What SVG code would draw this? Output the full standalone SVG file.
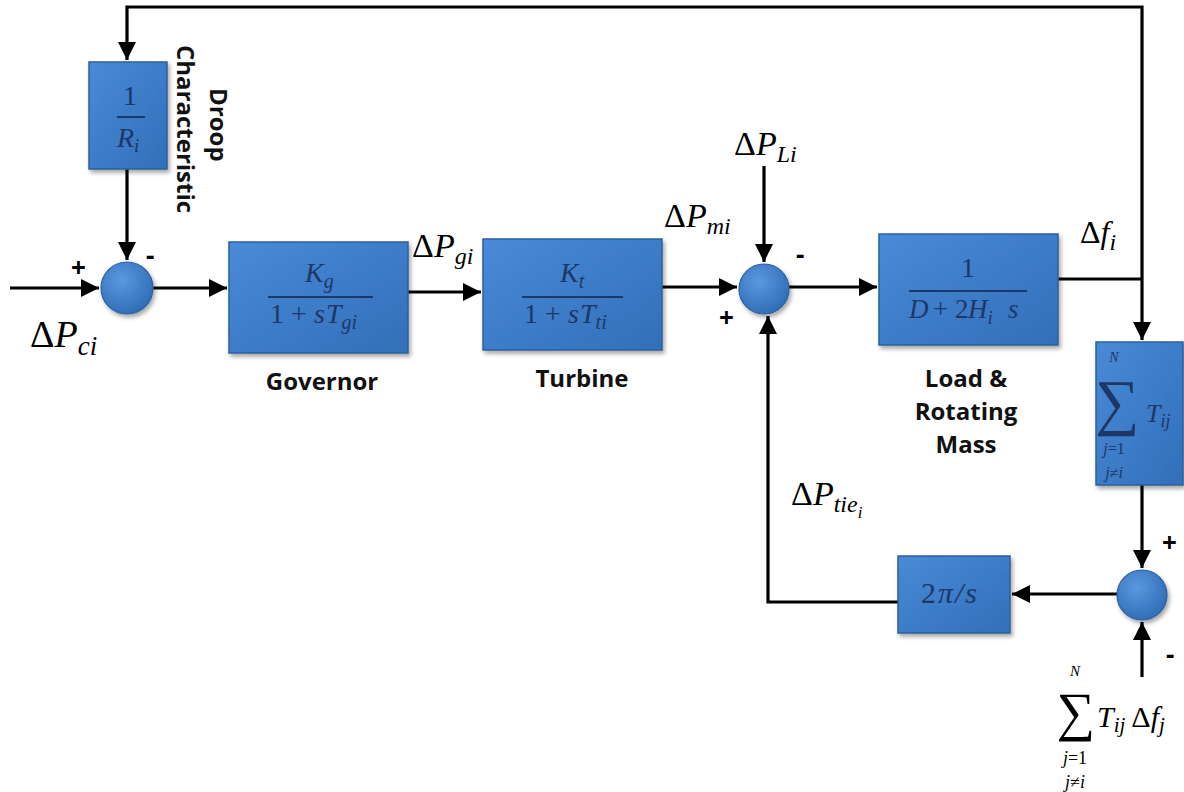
<svg xmlns="http://www.w3.org/2000/svg" width="1184" height="792" viewBox="0 0 1184 792">
<defs>
<linearGradient id="boxg" x1="0" y1="0" x2="1" y2="1">
<stop offset="0" stop-color="#4a8ad6"/>
<stop offset="0.5" stop-color="#3d7cc9"/>
<stop offset="1" stop-color="#336fb9"/>
</linearGradient>
<radialGradient id="cg" cx="0.4" cy="0.35" r="0.7">
<stop offset="0" stop-color="#5b98e0"/>
<stop offset="1" stop-color="#2f6bb4"/>
</radialGradient>
<filter id="sh" x="-10%" y="-10%" width="125%" height="125%">
<feDropShadow dx="2" dy="3" stdDeviation="2" flood-color="#000" flood-opacity="0.35"/>
</filter>
<marker id="ah" markerUnits="userSpaceOnUse" markerWidth="20" markerHeight="18" refX="18" refY="9" orient="auto">
<path d="M0,0 L18,9 L0,18 z" fill="#000"/>
</marker>
<style>
.box{fill:url(#boxg);stroke:#2c5f9e;stroke-width:1.5;filter:url(#sh)}
.sum{fill:url(#cg);stroke:#2a609f;stroke-width:1.2;filter:url(#sh)}
.ln{fill:none;stroke:#000;stroke-width:3.2}
.ar{marker-end:url(#ah)}
.m{font-family:"Liberation Serif",serif;font-style:italic;fill:#1d3766}
.mr{font-family:"Liberation Serif",serif;fill:#1d3766}
.lab{font-family:"Liberation Serif",serif;font-style:italic;fill:#000}
.up{font-style:normal}
.lbl{font-family:"Open Sans","Liberation Sans",sans-serif;font-weight:bold;font-size:24px;fill:#111}
.sg{font-family:"Open Sans","Liberation Sans",sans-serif;font-weight:bold;font-size:26px;fill:#000}
.fl{stroke:#1d3766;stroke-width:2}
</style>
</defs>

<g id="connectors">
<path class="ln ar" d="M1142,279 L1142,7 L127,7 L127,60"/>
<path class="ln" d="M1058,279 L1142,279"/>
<path class="ln ar" d="M1142,279 L1142,340"/>
<path class="ln ar" d="M127,169 L127,260"/>
<path class="ln ar" d="M10,288 L99,288"/>
<path class="ln ar" d="M153,288 L227,288"/>
<path class="ln ar" d="M408,292 L481,292"/>
<path class="ln ar" d="M662,287 L737,287"/>
<path class="ln ar" d="M764,166 L764,262"/>
<path class="ln ar" d="M789,287 L877,287"/>
<path class="ln ar" d="M1142,485 L1142,568"/>
<path class="ln ar" d="M1142,677 L1142,622"/>
<path class="ln ar" d="M1117,594 L1012,594"/>
<path class="ln ar" d="M898,602 L768,602 L768,316"/>
</g>

<g id="droop">
<rect class="box" x="89" y="62" width="78" height="107"/>
<text class="mr" x="130" y="105" font-size="28" text-anchor="middle">1</text>
<line class="fl" x1="117" y1="117" x2="145" y2="117"/>
<text class="m" x="117" y="147" font-size="28">R<tspan font-size="19" dy="5">i</tspan></text>
<text class="lbl" transform="translate(210,88) rotate(90)">Droop</text>
<text class="lbl" transform="translate(177,45) rotate(90)">Characteristic</text>
</g>

<g id="sum1">
<circle class="sum" cx="127" cy="288" r="26"/>
<text class="sg" x="71" y="277">+</text>
<text class="sg" x="146" y="265">-</text>
</g>

<g id="governor">
<rect class="box" x="229" y="242" width="179" height="111"/>
<text class="m" x="305" y="282" font-size="28">K<tspan font-size="20" dy="6">g</tspan></text>
<line class="fl" x1="268" y1="297" x2="373" y2="297"/>
<text class="mr" y="323" font-size="28"><tspan x="270">1</tspan><tspan x="291">+</tspan><tspan x="314" font-style="italic">s</tspan><tspan x="326" font-style="italic">T</tspan><tspan font-style="italic" font-size="20" dy="6">gi</tspan></text>
<text class="lbl" x="322" y="390" text-anchor="middle">Governor</text>
</g>

<g id="turbine">
<rect class="box" x="483" y="239" width="179" height="111"/>
<text class="m" x="560" y="282" font-size="28">K<tspan font-size="20" dy="6">t</tspan></text>
<line class="fl" x1="522" y1="297" x2="623" y2="297"/>
<text class="mr" y="323" font-size="28"><tspan x="524">1</tspan><tspan x="545">+</tspan><tspan x="568" font-style="italic">s</tspan><tspan x="580" font-style="italic">T</tspan><tspan font-style="italic" font-size="20" dy="6">ti</tspan></text>
<text class="lbl" x="582" y="387" text-anchor="middle">Turbine</text>
</g>

<g id="sum2">
<circle class="sum" cx="764" cy="289" r="25"/>
<text class="sg" x="796" y="264">-</text>
<text class="sg" x="719" y="327">+</text>
</g>

<g id="load">
<rect class="box" x="879" y="234" width="179" height="111"/>
<text class="mr" x="968" y="277" font-size="28" text-anchor="middle">1</text>
<line class="fl" x1="909" y1="291" x2="1027" y2="291"/>
<text class="m" y="318" font-size="27"><tspan x="909">D</tspan><tspan x="933" font-style="normal">+</tspan><tspan x="955" font-style="normal">2</tspan><tspan x="968">H</tspan><tspan font-size="19" dy="6">i</tspan><tspan x="1008" dy="-6">s</tspan></text>
<text class="lbl" x="966" y="387" text-anchor="middle">Load &amp;</text>
<text class="lbl" x="966" y="420" text-anchor="middle">Rotating</text>
<text class="lbl" x="966" y="453" text-anchor="middle">Mass</text>
</g>

<g id="tsum">
<rect class="box" x="1096" y="342" width="87" height="143"/>
<text class="m" x="1114" y="362" font-size="14" text-anchor="middle">N</text>
<text class="mr" x="1117" y="423" font-size="62" text-anchor="middle">∑</text>
<text class="m" x="1146" y="422" font-size="26">T<tspan font-size="18" dy="5">ij</tspan></text>
<text class="m" x="1114" y="454" font-size="16" text-anchor="middle">j<tspan font-style="normal">=1</tspan></text>
<text class="m" x="1114" y="478" font-size="16" text-anchor="middle">j<tspan font-style="normal">≠</tspan>i</text>
</g>

<g id="sum3">
<circle class="sum" cx="1142" cy="595" r="25"/>
<text class="sg" x="1162" y="552">+</text>
<text class="sg" x="1166" y="664">-</text>
</g>

<g id="integrator">
<rect class="box" x="898" y="556" width="112" height="77"/>
<text class="m" x="950" y="603" font-size="30" text-anchor="middle" letter-spacing="2"><tspan font-style="normal">2</tspan>π/s</text>
</g>

<g id="labels">
<text class="lab" x="30" y="347" font-size="38"><tspan class="up">Δ</tspan>P<tspan font-size="27" dy="8">ci</tspan></text>
<text class="lab" x="412" y="257" font-size="34"><tspan class="up">Δ</tspan>P<tspan font-size="24" dy="7">gi</tspan></text>
<text class="lab" x="664" y="227" font-size="34"><tspan class="up">Δ</tspan>P<tspan font-size="24" dy="7">mi</tspan></text>
<text class="lab" x="734" y="155" font-size="34"><tspan class="up">Δ</tspan>P<tspan font-size="24" dy="7">Li</tspan></text>
<text class="lab" x="1080" y="243" font-size="32"><tspan class="up">Δ</tspan>f<tspan font-size="24" dy="7">i</tspan></text>
<text class="lab" x="791" y="505" font-size="34"><tspan class="up">Δ</tspan>P<tspan font-size="24" dy="7">tie</tspan><tspan font-size="17" dy="6">i</tspan></text>
<text class="lab" x="1075" y="676" font-size="15" text-anchor="middle">N</text>
<text class="lab up" x="1076" y="730" font-size="54" text-anchor="middle">∑</text>
<text class="lab" x="1097" y="727" font-size="30">T<tspan font-size="21" dy="5">ij</tspan><tspan class="up" dx="6" dy="-5">Δ</tspan>f<tspan font-size="21" dy="5">j</tspan></text>
<text class="lab" x="1075" y="764" font-size="18" text-anchor="middle">j<tspan class="up">=1</tspan></text>
<text class="lab" x="1075" y="788" font-size="18" text-anchor="middle">j<tspan class="up">≠</tspan>i</text>
</g>
</svg>
